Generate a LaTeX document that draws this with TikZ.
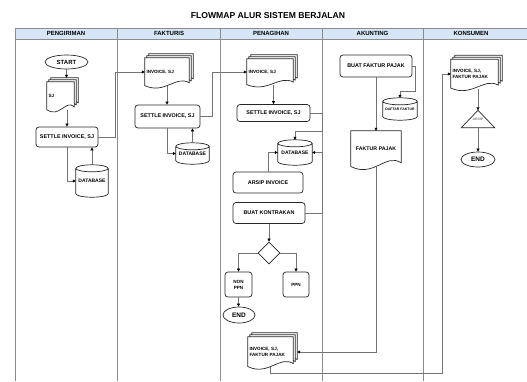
\documentclass[tikz,border=0pt]{standalone}
\usepackage{fontspec}
\setmainfont{Liberation Sans}
\usetikzlibrary{calc,positioning,shapes.geometric,backgrounds,arrows.meta}
\definecolor{headblue}{HTML}{D6E6F7}
\tikzset{
  lane/.style = {draw = black!45, line width = .5pt},
  title/.style = {font=\bfseries\fontsize{8.6}{9}\selectfont},
  head/.style = {font=\bfseries\fontsize{6}{6.5}\selectfont, anchor = center},
  proc/.style = {draw = black!85, line width = .7pt, rounded corners = 3pt, fill = white, inner sep = 1pt, align = center, font=\bfseries\fontsize{5.4}{6.5}\selectfont},
  term/.style = {draw = black!85, line width = .7pt, ellipse, fill = white, inner sep = 0pt, font=\bfseries\fontsize{6}{7}\selectfont},
  choice/.style = {draw = black!85, line width = .7pt, diamond, fill = white, inner sep = 0pt},
  doctext/.style = {inner sep = 1.5pt, align = left, font=\bfseries\fontsize{4.6}{5.6}\selectfont},
  dbtext/.style = {inner sep = 0pt, font=\bfseries\fontsize{5}{6}\selectfont},
  docline/.style = {draw = black!85, line width = .7pt, fill = white},
  conn/.style = {draw = black!55, line width = .6pt, -{Triangle[length=3pt,width=3pt,black]}},
}
% outline of a document sheet behind node #1, moved up and right by #2
\newcommand{\drawdoc}[2]{%
  \begin{scope}[on background layer]
  \draw[docline] let \p1 = ($(#1.north west)+(#2,#2)$), \p2 = ($(#1.south east)+(#2,#2)$),
      \n1 = {\x2-\x1}, \n2 = {\y1-\y2} in
    (\x1,\y1) -- (\x2,\y1) -- (\x2,\y2+0.12*\n2)
    .. controls (\x2-0.3*\n1,\y2+0.4*\n2) and (\x1+0.45*\n1,\y2-0.3*\n2) .. (\x1,\y2+0.02*\n2) -- cycle;
  \end{scope}}
% drum behind node #1
\newcommand{\drawdb}[1]{%
  \begin{scope}[on background layer]
  \draw[docline] let \p1 = (#1.north west), \p2 = (#1.south east) in
    (\x1,\y1-3.5pt) -- (\x1,\y2+3.5pt) arc[start angle=180, end angle=360, x radius={(\x2-\x1)/2}, y radius=3.5pt]
    -- (\x2,\y1-3.5pt) arc[start angle=0, end angle=180, x radius={(\x2-\x1)/2}, y radius=3.5pt] -- cycle
    (\x1,\y1-3.5pt) arc[start angle=180, end angle=360, x radius={(\x2-\x1)/2}, y radius=3.5pt];
  \end{scope}}

\begin{document}
\begin{tikzpicture}[x=1pt,y=-1pt]
  \useasboundingbox (0,0) rectangle (527,381);
% lanes
  \node[title] (title) at (268,16) {FLOWMAP ALUR SISTEM BERJALAN};
  \fill[headblue] (15,28) rectangle (527,39);
  \draw[lane] (527,28) -- (15,28) -- (15,39) -- (527,39);
  \foreach \xl in {15,117.5,220,322,423.5}{
    \draw[lane] (\xl,28) -- (\xl,381);
  }
  \foreach \m/\xc [count=\i] in {PENGIRIMAN/66,FAKTURIS/169,PENAGIHAN/271,AKUNTING/372.5,KONSUMEN/471}{
    \node[head] (head\i) at (\xc,33.5) {\m};
  }

% pengiriman
  \node[term, minimum width=43pt, minimum height=14pt] (start) at (66.5,62) {START};
  \node[doctext, text width=24pt, minimum height=28pt] (sj) at (60.5,96) {SJ};
  \node[proc, minimum width=62pt, minimum height=20pt] (settleA) at (67,137) {SETTLE INVOICE, SJ};
  \node[dbtext, minimum width=32pt, minimum height=32pt] (dbA) at (92,181) {DATABASE};

% fakturis
  \node[doctext, text width=41pt, minimum height=28pt] (invB) at (167,72) {INVOICE, SJ};
  \node[proc, minimum width=65pt, minimum height=23pt] (settleB) at (167.5,116.5) {SETTLE INVOICE, SJ};
  \node[dbtext, minimum width=33pt, minimum height=21pt] (dbB) at (192.5,153.5) {DATABASE};

% penagihan
  \node[doctext, text width=43pt, minimum height=26pt] (invC) at (270,72) {INVOICE, SJ};
  \node[proc, minimum width=73pt, minimum height=17pt] (settleC) at (273.5,113) {SETTLE INVOICE, SJ};
  \node[dbtext, minimum width=34pt, minimum height=25pt] (dbC) at (295,152.5) {DATABASE};
  \node[proc, minimum width=70pt, minimum height=21pt] (arsip) at (268,182.5) {ARSIP INVOICE};
  \node[proc, minimum width=72pt, minimum height=21pt] (kontrak) at (269,213) {BUAT KONTRAKAN};
  \node[choice, minimum width=22pt, minimum height=22pt] (pick) at (269,253) {};
  \node[proc, minimum width=27pt, minimum height=25pt, font=\bfseries\fontsize{4.6}{6}\selectfont] (nonppn) at (238.5,284.5) {NON\\PPN};
  \node[proc, minimum width=26pt, minimum height=25pt, font=\bfseries\fontsize{4.6}{6}\selectfont] (ppn) at (296,284.5) {PPN};
  \node[term, minimum width=32pt, minimum height=16pt, font=\bfseries\fontsize{6.5}{7}\selectfont] (endC) at (239,315) {END};
  \node[doctext, text width=42pt, minimum height=30pt] (invfak) at (270.5,352) {INVOICE, SJ,\\FAKTUR PAJAK};

% akunting
  \node[proc, minimum width=72pt, minimum height=22pt] (bfp) at (376,66) {BUAT FAKTUR PAJAK};
  \node[dbtext, minimum width=34pt, minimum height=22pt, font=\bfseries\fontsize{3.5}{4}\selectfont] (daftar) at (400,109) {DAFTAR FAKTUR};
  \node[doctext, text width=47pt, minimum height=36pt, align=center, font=\bfseries\fontsize{5.2}{6}\selectfont] (fakpaj) at (376,149) {FAKTUR PAJAK};

% konsumen
  \node[doctext, text width=44pt, minimum height=29pt] (invK) at (474.5,74) {INVOICE, SJ,\\FAKTUR PAJAK};
  \node[inner sep=0pt, minimum width=33pt, minimum height=17pt, text=black!50, font=\bfseries\fontsize{3.5}{4}\selectfont] (arsipK) at (478,119) {ARSIP};
  \node[term, minimum width=34pt, minimum height=15pt, font=\bfseries\fontsize{6.5}{7}\selectfont] (endK) at (478,159.5) {END};

% sheets and drums
  \foreach \nd in {sj,invB,invC,invfak,invK}{
    \drawdoc{\nd}{4pt}
    \drawdoc{\nd}{2pt}
    \drawdoc{\nd}{0pt}
  }
  \drawdoc{fakpaj}{0pt}
  \foreach \nd in {dbA,dbB,dbC,daftar}{
    \drawdb{\nd}
  }
  \begin{scope}[on background layer]
    \draw[docline] (arsipK.south west) -- (arsipK.south east) -- (arsipK.north) -- cycle;
  \end{scope}

% connectors
  \draw[conn] (start.south) -- ($(start.south |- sj.north)+(0,-4)$);
  \draw[conn] (settleA.north |- sj.south) -- (settleA.north);
  \draw[conn] (settleA.south) |- (dbA.west);
  \draw[conn] (dbA.north) -- (dbA.north |- settleA.south);
  \draw[conn] (settleA.east) -- ++(17,0) |- (invB.west);
  \draw[conn] (invB.south) -- (invB.south |- settleB.north);
  \draw[conn] (settleB.south) |- (dbB.west);
  \draw[conn] (dbB.north) -- (dbB.north |- settleB.south);
  \draw[conn] (settleB.east) -- ++(12,0) |- (invC.west);
  \draw[conn] (settleC.north |- invC.south) -- (settleC.north);
  \draw[conn] (settleC.east) -| ($(dbC.north)+(27,-9)$) -| (dbC.north);
  \draw[conn] (arsip.north) |- (dbC.west);
  \draw[conn] (kontrak.east) -- ++(17,0) |- (dbC.east);
  \draw[conn] (kontrak.south) -- (pick.north);
  \draw[conn] (pick.west) -| (nonppn.north);
  \draw[conn] (pick.east) -| (ppn.north);
  \draw[conn] (nonppn.south) -- (nonppn.south |- endC.north);
  \draw[conn] (bfp.south) -- (bfp.south |- fakpaj.north);
  \draw[conn] (bfp.east) -- ++(3,0) |- ($(daftar.north)+(0,-7)$) -- (daftar.north);
  \draw[conn] (fakpaj.south) |- ($(invfak.east)+(4,0)$);
  \draw[conn] (invfak.south) -- ++(0,6) -| ($(invK.west)+(-9,0)$) -- (invK.west);
  \draw[conn] (arsipK.north |- invK.south) -- (arsipK.north);
  \draw[conn] (arsipK.south) -- (endK.north);
\end{tikzpicture}
\end{document}
